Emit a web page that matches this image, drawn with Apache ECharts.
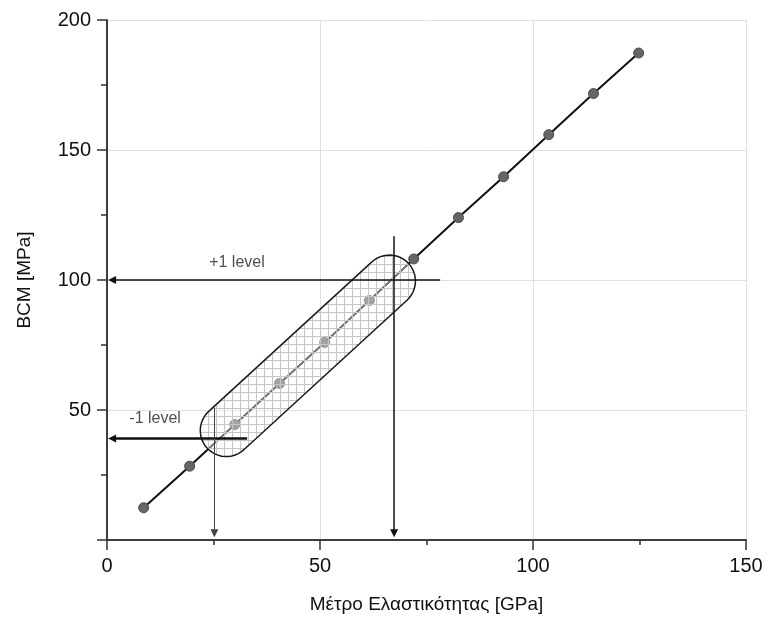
<!DOCTYPE html>
<html>
<head>
<meta charset="utf-8">
<script src="https://cdn.jsdelivr.net/npm/echarts@6/dist/echarts.min.js"></script>
<style>
    html, body { margin: 0; padding: 0; background: #fff; }
    #chart { width: 771px; height: 626px; }
</style>
</head>
<body>
<div id="chart"></div>
<script>
// values
const modulusGPa = [8.6, 19.4, 30.0, 40.5, 51.1, 61.6, 72.0, 82.5, 93.1, 103.7, 114.2, 124.8];
const bcmMPa = [12.4, 28.4, 44.4, 60.2, 76.0, 92.1, 108.1, 124.0, 139.7, 155.9, 171.7, 187.3];

// centres of the two rounded ends of the hatched band [x, y]
const bandStart = [28.0, 42.1];
const bandEnd = [66.3, 99.6];

// arrows: [fromX, fromY, toX, toY]
const arrowUpper = [78.2, 100, 1.2, 100];
const arrowLower = [32.9, 39.0, 1.2, 39.0];
const arrowRight = [67.4, 116.8, 67.4, 2.6];
const arrowLeft = [25.2, 51.0, 25.2, 2.6];

// annotation texts and where they sit
const noteTexts = ['+1 level', '-1 level'];
const notePoints = [[30.5, 106.8], [11.3, 46.6]];

const font = '"Liberation Sans", Arial, sans-serif';

// small cross-hatch tile used to fill the band
function hatchTile() {
    let c = document.createElement('canvas');
    c.width = 8;
    c.height = 8;
    let ctx = c.getContext('2d');
    ctx.strokeStyle = '#c6c6c6';
    ctx.lineWidth = 1;
    ctx.beginPath();
    ctx.moveTo(0.5, 0);
    ctx.lineTo(0.5, 8);
    ctx.moveTo(0, 0.5);
    ctx.lineTo(8, 0.5);
    ctx.stroke();
    return c;
}
const tile = hatchTile();

// outline of a stadium shape between two pixel centres
function capsulePoints(p1, p2, r) {
    let dx = p2[0] - p1[0];
    let dy = p2[1] - p1[1];
    let len = Math.sqrt(dx * dx + dy * dy);
    let d = [dx / len, dy / len];
    let n = [-d[1], d[0]];
    let pts = [];
    for (let i = 0; i <= 24; i++) {
        let t = Math.PI * i / 24;
        pts.push([p2[0] + r * (Math.cos(t) * n[0] + Math.sin(t) * d[0]),
                  p2[1] + r * (Math.cos(t) * n[1] + Math.sin(t) * d[1])]);
    }
    for (let i = 0; i <= 24; i++) {
        let t = Math.PI * i / 24;
        pts.push([p1[0] - r * (Math.cos(t) * n[0] + Math.sin(t) * d[0]),
                  p1[1] - r * (Math.cos(t) * n[1] + Math.sin(t) * d[1])]);
    }
    return pts;
}

let chart = echarts.init(document.getElementById('chart'), null, { renderer: 'canvas' });

let axisLine = { show: true, lineStyle: { color: '#333', width: 1.5 } };
let tickStyle = { color: '#333', width: 1.5 };
let baseX = {
    type: 'value', min: 0, max: 150, interval: 50,
    axisLine: axisLine
};
let baseY = {
    type: 'value', min: 0, max: 200, interval: 50,
    axisLine: axisLine
};

let option = {
    animation: false,
    backgroundColor: '#fff',
    textStyle: { fontFamily: font },
    grid: { left: 107, right: 25, top: 20, bottom: 86 },
    xAxis: [
        {
            ...baseX,
            position: 'bottom',
            name: 'Μέτρο Ελαστικότητας [GPa]',
            nameLocation: 'middle',
            nameGap: 55,
            nameTextStyle: { fontSize: 19, color: '#111', fontFamily: font },
            axisTick: { show: true, length: 10, lineStyle: tickStyle },
            minorTick: { show: true, splitNumber: 2, length: 5, lineStyle: tickStyle },
            axisLabel: { fontSize: 20, color: '#111', margin: 16, fontFamily: font },
            splitLine: { show: true, lineStyle: { color: '#e0e0e0', width: 1 } }
        },
        {
            ...baseX,
            position: 'top',
            axisTick: { show: true, inside: true, length: 8, lineStyle: tickStyle },
            minorTick: { show: true, splitNumber: 2, length: 5, lineStyle: tickStyle },
            axisLabel: { show: false },
            splitLine: { show: false }
        }
    ],
    yAxis: [
        {
            ...baseY,
            position: 'left',
            name: 'BCM [MPa]',
            nameLocation: 'middle',
            nameGap: 73,
            nameTextStyle: { fontSize: 19, color: '#111', fontFamily: font },
            axisTick: { show: true, length: 10, lineStyle: tickStyle },
            minorTick: { show: true, splitNumber: 2, length: 5, lineStyle: tickStyle },
            axisLabel: {
                fontSize: 20, color: '#111', margin: 16, fontFamily: font,
                formatter: v => v === 0 ? '' : v
            },
            splitLine: { show: true, lineStyle: { color: '#e0e0e0', width: 1 } }
        },
        {
            ...baseY,
            position: 'right',
            axisTick: { show: true, inside: true, length: 10, lineStyle: tickStyle },
            minorTick: { show: true, splitNumber: 2, length: 6, lineStyle: tickStyle },
            axisLabel: { show: false },
            splitLine: { show: false }
        }
    ],
    series: [
        {
            name: 'BCM',
            type: 'line',
            data: modulusGPa.map((x, i) => [x, bcmMPa[i]]),
            z: 2,
            symbol: 'circle',
            symbolSize: 10,
            lineStyle: { color: '#111', width: 2 },
            itemStyle: { color: '#666', borderColor: '#4a4a4a', borderWidth: 1 },
            emphasis: { disabled: true }
        },
        {
            name: 'band',
            type: 'custom',
            z: 3,
            silent: true,
            data: [[bandStart[0], bandStart[1], bandEnd[0], bandEnd[1]]],
            renderItem: (params, api) => {
                let p1 = api.coord([api.value(0), api.value(1)]);
                let p2 = api.coord([api.value(2), api.value(3)]);
                let pts = capsulePoints(p1, p2, 26);
                return {
                    type: 'group',
                    children: [
                        {
                            type: 'polygon',
                            shape: { points: pts },
                            style: { fill: 'rgba(255,255,255,0.4)', stroke: 'none' }
                        },
                        {
                            type: 'polygon',
                            shape: { points: pts },
                            style: {
                                fill: { image: tile, repeat: 'repeat' },
                                stroke: '#1a1a1a',
                                lineWidth: 1.5
                            }
                        }
                    ]
                };
            }
        },
        {
            name: 'arrows',
            type: 'lines',
            coordinateSystem: 'cartesian2d',
            z: 4,
            silent: true,
            symbol: ['none', 'triangle'],
            symbolSize: 8,
            data: [
                { coords: [arrowUpper.slice(0, 2), arrowUpper.slice(2)], lineStyle: { width: 1.5, color: '#111' } },
                { coords: [arrowLower.slice(0, 2), arrowLower.slice(2)], lineStyle: { width: 2.5, color: '#111' } },
                { coords: [arrowRight.slice(0, 2), arrowRight.slice(2)], lineStyle: { width: 1.5, color: '#111' } },
                { coords: [arrowLeft.slice(0, 2), arrowLeft.slice(2)], lineStyle: { width: 1, color: '#444' } }
            ],
            lineStyle: { opacity: 1, curveness: 0 }
        },
        {
            name: 'notes',
            type: 'scatter',
            z: 5,
            silent: true,
            symbolSize: 1,
            itemStyle: { color: 'rgba(0,0,0,0)' },
            data: notePoints.map((p, i) => ({ value: p, name: noteTexts[i] })),
            label: {
                show: true,
                position: 'inside',
                formatter: p => p.name,
                fontSize: 16,
                color: '#222',
                fontFamily: font
            }
        }
    ]
};
chart.setOption(option);
</script>
</body>
</html>
